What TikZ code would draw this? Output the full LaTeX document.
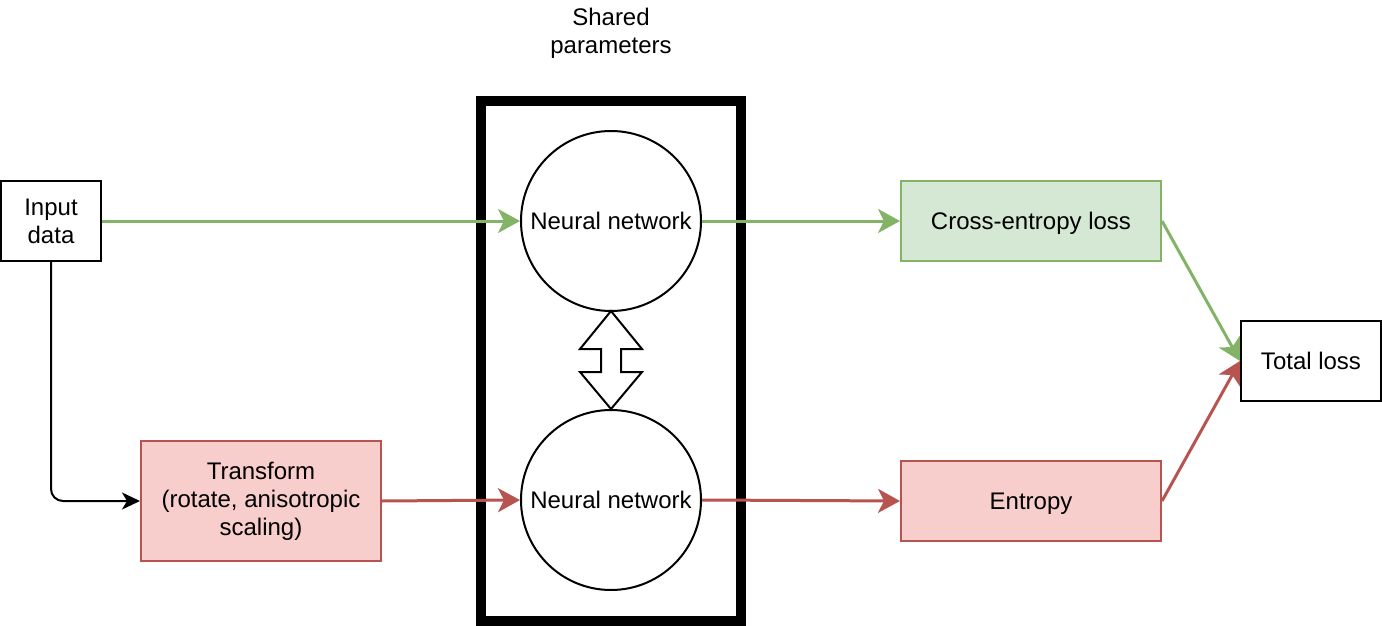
\documentclass[tikz,border=0pt]{standalone}
\usepackage{fontspec}
\setmainfont{Liberation Sans}
\usetikzlibrary{arrows.meta}
\definecolor{gstroke}{HTML}{82B366}
\definecolor{gfill}{HTML}{D5E8D4}
\definecolor{rstroke}{HTML}{B85450}
\definecolor{rfill}{HTML}{F8CECC}
\tikzset{
  every node/.style={font=\fontsize{24}{28}\selectfont, inner sep=0pt},
  multi/.style={align=center},
  oneline/.style={text height=17.2pt, text depth=0pt},
  plainbox/.style={draw=black, line width=2pt, fill=white},
  greenbox/.style={draw=gstroke, line width=2pt, fill=gfill},
  redbox/.style={draw=rstroke, line width=2pt, fill=rfill},
  netcircle/.style={draw=black, line width=2pt, circle, minimum size=180pt, fill=white},
  garrow/.style={draw=gstroke, line width=3pt, -{Stealth[length=22pt,width=24pt,inset=6pt]}},
  rarrow/.style={draw=rstroke, line width=3pt, -{Stealth[length=22pt,width=24pt,inset=6pt]}},
  karrow/.style={draw=black, line width=2pt, rounded corners=12pt, -{Stealth[length=18pt,width=17pt,inset=5pt]}},
}
\begin{document}
\begin{tikzpicture}[x=1pt,y=-1pt]
\useasboundingbox (0,0) rectangle (1382,626);
% frame
\draw[line width=10pt] (481,101) rectangle (741,621);
\node[multi] (shared) at (611,33) {Shared\\parameters};
% nodes
\node[plainbox, multi, minimum width=100pt, minimum height=80pt] (input) at (51,221) {Input\\data};
\node[redbox, multi, minimum width=240pt, minimum height=120pt] (transform) at (261,501) {Transform\\(rotate, anisotropic\\scaling)};
\node[netcircle, oneline] (nn1) at (611,221) {Neural network};
\node[netcircle, oneline] (nn2) at (611,500) {Neural network};
\node[greenbox, oneline, minimum width=260pt, minimum height=80pt] (ce) at (1031,221) {Cross-entropy loss};
\node[redbox, oneline, minimum width=260pt, minimum height=80pt] (ent) at (1031,501) {Entropy};
\node[plainbox, oneline, minimum width=140pt, minimum height=80pt] (total) at (1311,361) {Total loss};
% double arrow between networks
\draw[line width=2pt, fill=white, line join=miter]
  (611,311) -- (642,349) -- (621,349) -- (621,372) -- (642,372) -- (611,409)
  -- (580,372) -- (601,372) -- (601,349) -- (580,349) -- cycle;
% connectors
\draw[garrow] (input.east) -- (nn1.west);
\draw[garrow] (nn1.east) -- (ce.west);
\draw[garrow] (ce.east) -- (total.west);
\draw[karrow] (input.south) |- (transform.west);
\draw[rarrow] (transform.east) -- (nn2.west);
\draw[rarrow] (nn2.east) -- (ent.west);
\draw[rarrow] (ent.east) -- (total.west);
\end{tikzpicture}
\end{document}
